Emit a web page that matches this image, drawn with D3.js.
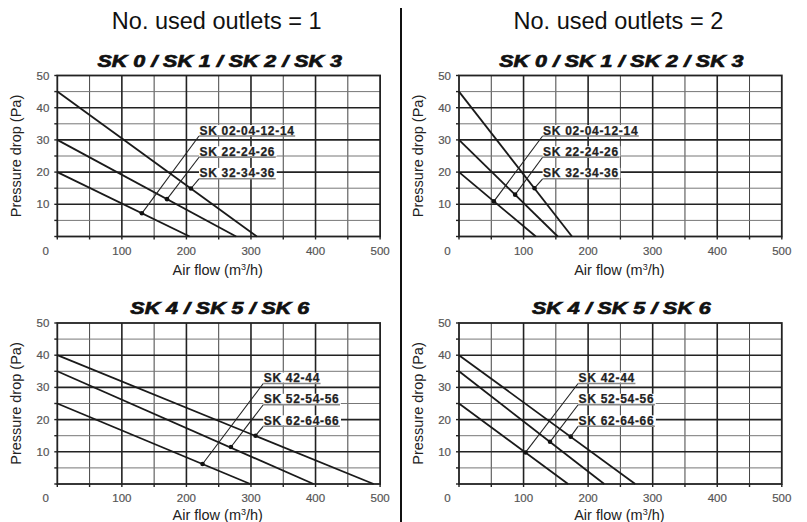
<!DOCTYPE html>
<html>
<head>
<meta charset="utf-8">
<script src="https://cdn.jsdelivr.net/npm/d3@7"></script>
<style>
  body { margin: 0; background: #fff; }
  svg { display: block; font-family: "Liberation Sans", Arial, sans-serif; }
</style>
</head>
<body>
<svg id="chart" width="807" height="522"></svg>
<script>
// column headings
const columnTitles = ["No. used outlets = 1", "No. used outlets = 2"]
// panel headings (rows)
const rowTitles = ["SK 0 / SK 1 / SK 2 / SK 3", "SK 4 / SK 5 / SK 6"]
const rowSeries = [
    ["SK 02-04-12-14", "SK 22-24-26", "SK 32-34-36"],
    ["SK 42-44", "SK 52-54-56", "SK 62-64-66"]
]

const xTicks = [0, 100, 200, 300, 400, 500]
const yTicks = [10, 20, 30, 40, 50]

// each line: [pressure at 0 m3/h, air flow at 0 Pa]
const linesTop1 = [[20, 205], [30, 277], [45, 309]]
const linesTop2 = [[20, 119], [30, 153], [45, 175]]
const linesBot1 = [[25, 299], [35, 397], [40, 490]]
const linesBot2 = [[25, 169], [35, 225], [40, 273]]

// marked points on the lines [air flow, pressure]
const dotsTop1 = [[131, 7.2], [170, 11.6], [207, 14.9]]
const dotsTop2 = [[54, 10.9], [87, 13.0], [117, 15.0]]
const dotsBot1 = [[225, 6.2], [269, 11.5], [307, 15.0]]
const dotsBot2 = [[103, 9.8], [141, 13.1], [173, 14.7]]

// where the callout labels sit [air flow], pressure levels
const labelXTop1 = 219.5
const labelXTop2 = 129.5
const labelXBot1 = 319
const labelXBot2 = 184.5
const labelY = [31.2, 24.6, 17.9]

const panels = [
    { col: 0, row: 0, lines: linesTop1, dots: dotsTop1, labelX: labelXTop1 },
    { col: 1, row: 0, lines: linesTop2, dots: dotsTop2, labelX: labelXTop2 },
    { col: 0, row: 1, lines: linesBot1, dots: dotsBot1, labelX: labelXBot1 },
    { col: 1, row: 1, lines: linesBot2, dots: dotsBot2, labelX: labelXBot2 }
]

const svg = d3.select("#chart")

const plotW = 322.8, plotH = 161
const colLeft = [57.3, 459]
const rowTop = [75.5, 323]

// column titles
columnTitles.forEach((t, i) => {
    svg.append("text")
        .attr("x", colLeft[i] + plotW / 2 - 2)
        .attr("y", 29.3)
        .attr("text-anchor", "middle")
        .attr("font-size", 23.5)
        .attr("fill", "#111")
        .text(t)
})

// divider
svg.append("line")
    .attr("x1", 401).attr("x2", 401)
    .attr("y1", 8).attr("y2", 522)
    .attr("stroke", "#111")
    .attr("stroke-width", 2)

panels.forEach(p => {
    const left = colLeft[p.col]
    const top = rowTop[p.row]
    const x = d3.scaleLinear().domain([0, 500]).range([left, left + plotW])
    const y = d3.scaleLinear().domain([0, 50]).range([top + plotH, top])
    const g = svg.append("g")

    // panel title (wide heavy italic -> stretch horizontally)
    g.append("text")
        .attr("transform", `translate(${(x(0) + x(500)) / 2 + 1},${top - 8.8}) scale(1.3,1)`)
        .attr("text-anchor", "middle")
        .attr("font-size", 16.5)
        .attr("font-weight", "bold")
        .attr("font-style", "italic")
        .attr("fill", "#111")
        .attr("stroke", "#111")
        .attr("stroke-width", 0.7)
        .text(rowTitles[p.row])

    // grid: minor first, major on top
    const vx = d3.range(0, 501, 50)
    const hy = d3.range(0, 51, 5)
    g.selectAll("line.vminor").data(vx.filter(v => v % 100 !== 0)).enter()
        .append("line")
        .attr("x1", d => x(d)).attr("x2", d => x(d))
        .attr("y1", y(0)).attr("y2", y(50))
        .attr("stroke", "#444").attr("stroke-width", 1)
    g.selectAll("line.hminor").data(hy.filter(v => v % 10 !== 0)).enter()
        .append("line")
        .attr("x1", x(0)).attr("x2", x(500))
        .attr("y1", d => y(d)).attr("y2", d => y(d))
        .attr("stroke", "#777").attr("stroke-width", 1)
    g.selectAll("line.vmajor").data(vx.filter(v => v % 100 === 0 && v > 0 && v < 500)).enter()
        .append("line")
        .attr("x1", d => x(d)).attr("x2", d => x(d))
        .attr("y1", y(0)).attr("y2", y(50))
        .attr("stroke", "#222").attr("stroke-width", 1.6)
    g.selectAll("line.hmajor").data(hy.filter(v => v % 10 === 0 && v > 0 && v < 50)).enter()
        .append("line")
        .attr("x1", x(0)).attr("x2", x(500))
        .attr("y1", d => y(d)).attr("y2", d => y(d))
        .attr("stroke", "#222").attr("stroke-width", 1.6)
    g.append("rect")
        .attr("x", x(0)).attr("y", y(50))
        .attr("width", x(500) - x(0)).attr("height", y(0) - y(50))
        .attr("fill", "none").attr("stroke", "#222").attr("stroke-width", 1.8)

    // little ticks outside
    g.selectAll("line.xt").data(vx).enter()
        .append("line")
        .attr("x1", d => x(d)).attr("x2", d => x(d))
        .attr("y1", y(0)).attr("y2", y(0) + 3)
        .attr("stroke", "#222").attr("stroke-width", 1.4)
    g.selectAll("line.yt").data(hy).enter()
        .append("line")
        .attr("x1", x(0) - 3).attr("x2", x(0))
        .attr("y1", d => y(d)).attr("y2", d => y(d))
        .attr("stroke", "#222").attr("stroke-width", 1.4)

    // tick labels
    g.selectAll("text.xl").data(xTicks).enter()
        .append("text")
        .attr("x", d => d === 0 ? x(d) - 11.5 : x(d))
        .attr("y", y(0) + 18)
        .attr("text-anchor", "middle")
        .attr("font-size", 11.5)
        .attr("fill", "#555")
        .attr("stroke", "#555").attr("stroke-width", 0.2)
        .text(d => d)
    g.selectAll("text.yl").data(yTicks).enter()
        .append("text")
        .attr("x", x(0) - 8)
        .attr("y", d => y(d) + 4)
        .attr("text-anchor", "end")
        .attr("font-size", 11.5)
        .attr("fill", "#555")
        .attr("stroke", "#555").attr("stroke-width", 0.2)
        .text(d => d)

    // axis titles
    g.append("text")
        .attr("x", (x(0) + x(500)) / 2 - 1)
        .attr("y", Math.min(y(0) + 38.5, 519.5))
        .attr("text-anchor", "middle")
        .attr("font-size", 14.5)
        .attr("fill", "#222")
        .html("Air flow (m<tspan font-size='9' dy='-5'>3</tspan><tspan dy='5'>/h)</tspan>")
    g.append("text")
        .attr("transform", `translate(${left - 36},${(y(0) + y(50)) / 2}) rotate(-90)`)
        .attr("text-anchor", "middle")
        .attr("font-size", 14.5)
        .attr("fill", "#222")
        .text("Pressure drop (Pa)")

    // pressure drop lines
    g.selectAll("line.curve").data(p.lines).enter()
        .append("line")
        .attr("x1", x(0)).attr("y1", d => y(d[0]))
        .attr("x2", d => x(d[1])).attr("y2", y(0))
        .attr("stroke", "#1a1a1a").attr("stroke-width", 1.8)

    // leaders
    g.selectAll("line.leader").data(p.dots).enter()
        .append("line")
        .attr("x1", d => x(d[0])).attr("y1", d => y(d[1]))
        .attr("x2", x(p.labelX)).attr("y2", (d, i) => y(labelY[i]))
        .attr("stroke", "#222").attr("stroke-width", 1.1)

    g.selectAll("circle.dot").data(p.dots).enter()
        .append("circle")
        .attr("cx", d => x(d[0])).attr("cy", d => y(d[1]))
        .attr("r", 2.3)
        .attr("fill", "#111")

    // callout labels
    rowSeries[p.row].forEach((name, i) => {
        const lx = x(p.labelX), ly = y(labelY[i])
        const bg = g.append("rect").attr("fill", "#fff")
        const t = g.append("text")
            .attr("x", lx + 0.5)
            .attr("y", ly - 1.5)
            .attr("font-size", 12)
            .attr("font-weight", "bold")
            .style("letter-spacing", "0.7px")
            .attr("fill", "#222")
            .attr("stroke", "#222").attr("stroke-width", 0.25)
            .text(name)
        const w = t.node().getComputedTextLength()
        bg.attr("x", lx).attr("y", ly - 11).attr("width", w + 2).attr("height", 10)
        g.append("line")
            .attr("x1", lx).attr("x2", lx + w + 1)
            .attr("y1", ly).attr("y2", ly)
            .attr("stroke", "#888").attr("stroke-width", 1.5)
    })
})
</script>
</body>
</html>
